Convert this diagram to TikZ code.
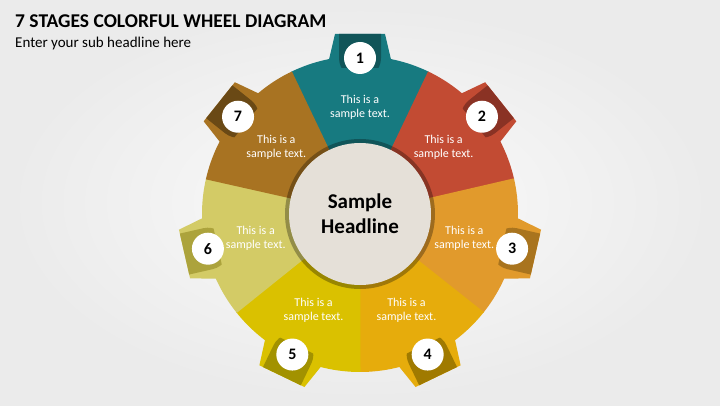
\documentclass[tikz,border=0pt]{standalone}
\usepackage{fontspec}
\setmainfont{Carlito}
\usepackage{tikz}

\definecolor{segA}{HTML}{177A80}\definecolor{segAd}{HTML}{115559}
\definecolor{segB}{HTML}{C24B33}\definecolor{segBd}{HTML}{8A3224}
\definecolor{segC}{HTML}{E19A2C}\definecolor{segCd}{HTML}{A9741E}
\definecolor{segD}{HTML}{E6AC0C}\definecolor{segDd}{HTML}{A07A00}
\definecolor{segE}{HTML}{DAC100}\definecolor{segEd}{HTML}{A29200}
\definecolor{segF}{HTML}{D3CB66}\definecolor{segFd}{HTML}{ACA33C}
\definecolor{segG}{HTML}{A87322}\definecolor{segGd}{HTML}{6A4915}
\definecolor{hubfill}{HTML}{E5E0D8}

\begin{document}
\begin{tikzpicture}[x=1pt, y=1pt,
    segtext/.style={text=white, align=center, font=\fontsize{12}{14}\selectfont},
    numdot/.style={circle, fill=white, minimum size=32pt, inner sep=0pt,
      font=\bfseries\fontsize{16}{18}\selectfont}]
  \useasboundingbox (0,0) rectangle (720,405);
  \shade[inner color=gray!3, outer color=gray!16] (0,0) rectangle (720,405);
  % heading
  \node[anchor=base west, inner sep=0pt, font=\bfseries\fontsize{19.5}{21}\selectfont] (title) at (15,377) {7 STAGES COLORFUL WHEEL DIAGRAM};
  \node[anchor=base west, inner sep=0pt, font=\fontsize{15}{17}\selectfont] (subtitle) at (15,357) {Enter your sub headline here};
  % wheel
  \begin{scope}[shift={(360,191)}]
    \foreach \k/\c in {1/segA, 2/segB, 3/segC, 4/segD, 5/segE, 6/segF, 7/segG} {
      \pgfmathsetmacro\a{90-(\k-1)*360/7}
      \fill[\c] (0,0) -- (\a-25.9:158) arc[start angle=\a-25.9, end angle=\a+25.9, radius=158] -- cycle;
    }
    \foreach \k/\c/\d in {1/segA/segAd, 2/segB/segBd, 3/segC/segCd, 4/segD/segDd, 5/segE/segEd, 6/segF/segFd, 7/segG/segGd} {
      \pgfmathsetmacro\a{90-(\k-1)*360/7}
      \begin{scope}[rotate=\a-90]
        \fill[\c] (-33,146) -- (-25,180) -- (25,180) -- (33,146) -- cycle;
        \begin{scope}
          \clip (-33,146) -- (-25,180) -- (25,180) -- (33,146) -- cycle;
          \fill[\d] (-21,182) -- (-21,156) arc[start angle=180, end angle=360, radius=21] -- (21,182) -- cycle;
        \end{scope}
        \node[numdot] (num\k) at (0,156) {\k};
      \end{scope}
      \node[segtext] (txt\k) at (\a:107) {This is a\\sample text.};
    }
    \fill[black, opacity=.3] (0,0) circle[radius=75];
    \node[circle, fill=hubfill, minimum size=142pt, inner sep=0pt, align=center,
      font=\bfseries\fontsize{21}{25}\selectfont] (hub) at (0,0) {Sample\\Headline};
  \end{scope}
\end{tikzpicture}
\end{document}
